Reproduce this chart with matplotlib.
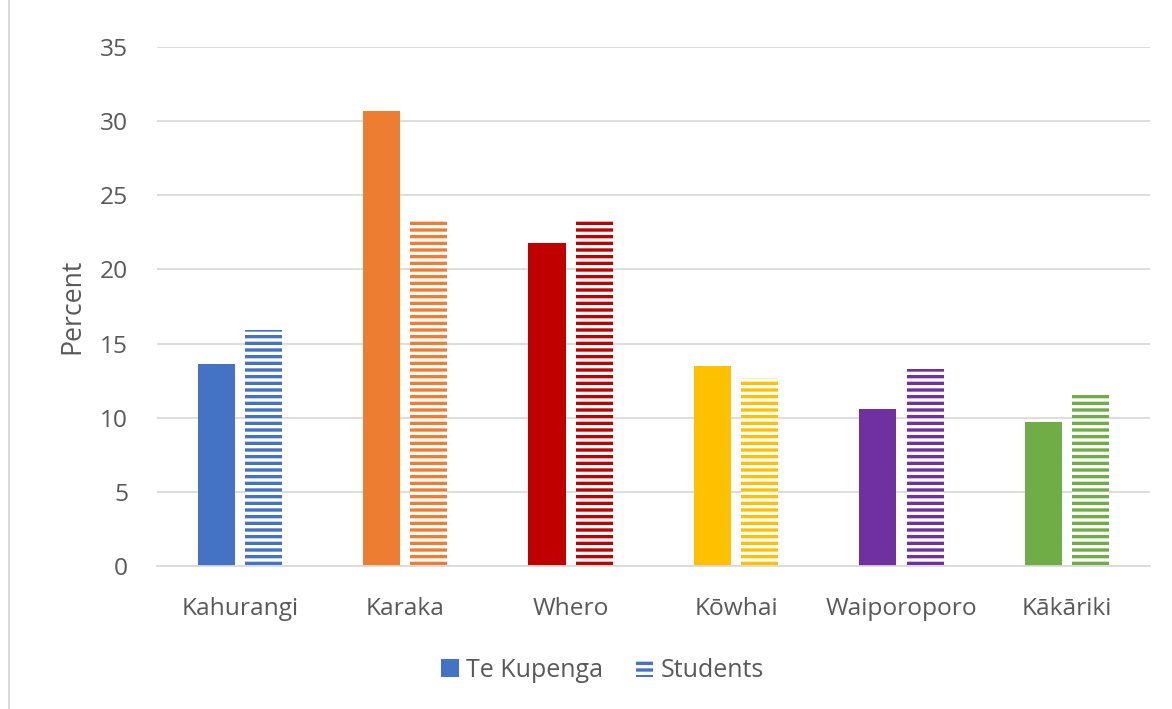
import matplotlib.pyplot as plt
import numpy as np
from matplotlib.patches import Patch
from matplotlib.lines import Line2D

plt.rcParams.update({
    'font.family': ['Open Sans', 'DejaVu Sans'],
    'hatch.linewidth': 3.0,
    'text.color': '#595959',
    'axes.labelcolor': '#595959',
    'xtick.color': '#595959',
    'ytick.color': '#595959',
})

# Data
categories = ["Kahurangi", "Karaka", "Whero", "Kōwhai", "Waiporoporo", "Kākāriki"]
te_kupenga = [13.6, 30.7, 21.8, 13.5, 10.6, 9.7]
students = [15.9, 23.3, 23.4, 12.7, 13.3, 11.5]
colors = ["#4472C4", "#ED7D31", "#C00000", "#FFC000", "#7030A0", "#70AD47"]

fig = plt.figure(figsize=(14.65, 8.8625), dpi=80)
ax = fig.add_axes([0.134, 0.2017, 0.847, 0.732])

x = np.arange(len(categories))
width = 0.224
offset = 0.143

# Solid bars for Te Kupenga, horizontally striped bars for students
ax.bar(x - offset, te_kupenga, width, color=colors, linewidth=0)
ax.bar(x + offset, students, width, facecolor='white', edgecolor=colors,
       hatch='--', linewidth=0)

ax.set_xlim(-0.5, len(categories) - 0.5)
ax.set_ylim(0, 35)
ax.set_yticks(np.arange(0, 36, 5))
ax.set_xticks(x)
ax.set_xticklabels(categories)
ax.tick_params(axis='both', length=0, labelsize=22)
ax.tick_params(axis='x', pad=28)
ax.tick_params(axis='y', pad=26)
ax.set_ylabel("Percent", fontsize=24, labelpad=12)

ax.grid(axis='y', color='#D9D9D9', linewidth=1.6)
ax.set_axisbelow(True)
for side in ['top', 'right', 'left']:
    ax.spines[side].set_visible(False)
ax.spines['bottom'].set_color('#D9D9D9')
ax.spines['bottom'].set_linewidth(1.6)

# Legend
handles = [
    Patch(facecolor=colors[0], linewidth=0, label="Te Kupenga"),
    Patch(facecolor='white', edgecolor=colors[0], hatch='--', linewidth=0, label="Students"),
]
fig.legend(handles=handles, loc='center', bbox_to_anchor=(0.514, 0.055), ncol=2,
           frameon=False, fontsize=22.5, handlelength=0.7, handleheight=0.7,
           handletextpad=0.3, columnspacing=1.3)

# Chart area border on the left edge
fig.add_artist(Line2D([0.0075, 0.0075], [0, 1], transform=fig.transFigure,
                      color='#D9D9D9', linewidth=1.8))

fig.savefig("out.png", dpi=80)
